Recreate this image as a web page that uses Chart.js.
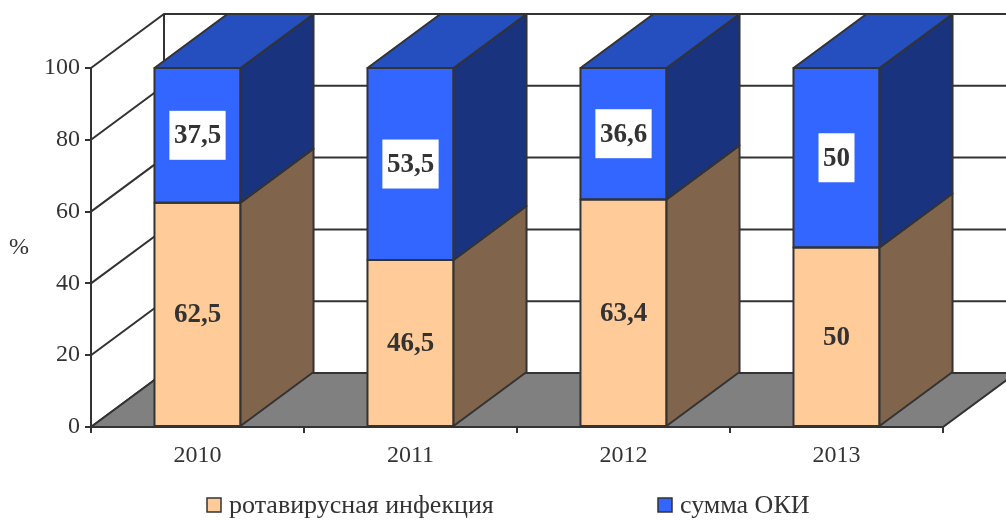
<!DOCTYPE html>
<html>
<head>
<meta charset="utf-8">
<script src="https://cdn.jsdelivr.net/npm/chart.js@4.4.1/dist/chart.umd.min.js"></script>
<style>
  body { margin: 0; background: #fff; }
  #wrap { width: 1006px; height: 520px; }
</style>
</head>
<body>
<div id="wrap"><canvas id="myChart" width="1006" height="520"></canvas></div>
<script>
// данные
var years = ['2010', '2011', '2012', '2013'];
var rotaValues = [62.5, 46.5, 63.4, 50];
var okiValues = [37.5, 53.5, 36.6, 50];
var yTicks = [0, 20, 40, 60, 80, 100];
var seriesNames = ['ротавирусная инфекция', 'сумма ОКИ'];

var DX = 73, DY = -54;          // глубина 3D
var LINE = '#333333';
var FONT = '"Liberation Serif", "Times New Roman", serif';

function fmt(v) {
  return String(v).replace('.', ',');
}

var threeD = {
  id: 'threeD',
  beforeDatasetsDraw: function (chart) {
    var ctx = chart.ctx, a = chart.chartArea, y = chart.scales.y;
    ctx.save();
    ctx.strokeStyle = LINE;
    ctx.lineWidth = 2;
    // сетка на левой и задней стенке
    yTicks.forEach(function (v) {
      var py = y.getPixelForValue(v);
      ctx.beginPath();
      ctx.moveTo(a.left, py);
      ctx.lineTo(a.left + DX, py + DY);
      ctx.lineTo(a.right + DX, py + DY);
      ctx.stroke();
    });
    // задняя вертикаль
    ctx.beginPath();
    ctx.moveTo(a.left + DX, y.getPixelForValue(100) + DY);
    ctx.lineTo(a.left + DX, a.bottom + DY);
    ctx.stroke();
    // пол
    ctx.beginPath();
    ctx.moveTo(a.left, a.bottom);
    ctx.lineTo(a.right, a.bottom);
    ctx.lineTo(a.right + DX, a.bottom + DY);
    ctx.lineTo(a.left + DX, a.bottom + DY);
    ctx.closePath();
    ctx.fillStyle = '#808080';
    ctx.fill();
    ctx.stroke();
    ctx.restore();
  },
  afterDatasetsDraw: function (chart) {
    var ctx = chart.ctx;
    var n = chart.data.datasets.length;
    ctx.save();
    ctx.strokeStyle = LINE;
    ctx.lineWidth = 2;
    ctx.lineJoin = 'round';
    chart.data.datasets.forEach(function (ds, i) {
      var meta = chart.getDatasetMeta(i);
      meta.data.forEach(function (el) {
        var p = el.getProps(['x', 'y', 'base', 'width'], true);
        var l = p.x - p.width / 2, r = p.x + p.width / 2;
        var t = Math.min(p.y, p.base), b = Math.max(p.y, p.base);
        // передняя грань (контур)
        ctx.strokeRect(l, t, r - l, b - t);
        // боковая грань
        ctx.beginPath();
        ctx.moveTo(r, t);
        ctx.lineTo(r + DX, t + DY);
        ctx.lineTo(r + DX, b + DY);
        ctx.lineTo(r, b);
        ctx.closePath();
        ctx.fillStyle = ds.sideColor;
        ctx.fill();
        ctx.stroke();
        // верхняя грань
        if (i === n - 1) {
          ctx.beginPath();
          ctx.moveTo(l, t);
          ctx.lineTo(r, t);
          ctx.lineTo(r + DX, t + DY);
          ctx.lineTo(l + DX, t + DY);
          ctx.closePath();
          ctx.fillStyle = ds.topColor;
          ctx.fill();
          ctx.stroke();
        }
      });
    });
    // подписи значений
    ctx.font = 'bold 27px ' + FONT;
    ctx.textAlign = 'center';
    ctx.textBaseline = 'middle';
    chart.data.datasets.forEach(function (ds, i) {
      var meta = chart.getDatasetMeta(i);
      meta.data.forEach(function (el, j) {
        var p = el.getProps(['x', 'y', 'base'], true);
        var cy = (p.y + p.base) / 2;
        var txt = fmt(ds.data[j]);
        if (ds.labelBox) {
          var w = ctx.measureText(txt).width + 9;
          ctx.fillStyle = '#ffffff';
          ctx.fillRect(p.x - w / 2, cy - 24.5, w, 49);
        }
        ctx.fillStyle = '#333333';
        ctx.fillText(txt, p.x, cy + 1);
      });
    });
    ctx.restore();
  },
  afterDraw: function (chart) {
    var ctx = chart.ctx, a = chart.chartArea;
    ctx.save();
    // подпись оси
    ctx.font = '24px ' + FONT;
    ctx.fillStyle = '#333333';
    ctx.textAlign = 'center';
    ctx.textBaseline = 'middle';
    ctx.fillText('%', 19, (a.top + a.bottom) / 2);
    // легенда
    ctx.font = '26px ' + FONT;
    ctx.textAlign = 'left';
    chart.data.datasets.forEach(function (ds, i) {
      var x = 207 + i * 451, cy = 505;
      ctx.fillStyle = ds.backgroundColor;
      ctx.fillRect(x, cy - 7, 14, 14);
      ctx.strokeStyle = LINE;
      ctx.lineWidth = 1.5;
      ctx.strokeRect(x, cy - 7, 14, 14);
      ctx.fillStyle = '#333333';
      ctx.fillText(ds.label, x + 22, cy + 1);
    });
    ctx.restore();
  }
};

var chart = new Chart(document.getElementById('myChart'), {
  type: 'bar',
  data: {
    labels: years,
    datasets: [
      {
        label: seriesNames[0],
        data: rotaValues,
        backgroundColor: '#FFCC99',
        sideColor: '#80654C',
        borderWidth: 0,
        labelBox: false
      },
      {
        label: seriesNames[1],
        data: okiValues,
        backgroundColor: '#3366FF',
        sideColor: '#1A337F',
        topColor: '#254FBF',
        borderWidth: 0,
        labelBox: true
      }
    ]
  },
  options: {
    responsive: false,
    animation: false,
    layout: { padding: { top: 68, right: 63, bottom: 0, left: 0 } },
    datasets: { bar: { categoryPercentage: 1, barPercentage: 0.404 } },
    plugins: { legend: { display: false }, tooltip: { enabled: false } },
    scales: {
      x: {
        stacked: true,
        afterFit: function (s) { s.height = 93; },
        grid: { offset: true, drawOnChartArea: false, drawTicks: true, tickLength: 6, color: LINE, lineWidth: 2 },
        border: { display: true, color: LINE, width: 2 },
        ticks: { color: '#333333', font: { family: FONT, size: 24 }, padding: 8 }
      },
      y: {
        stacked: true,
        min: 0,
        max: 100,
        afterFit: function (s) { s.width = 91; },
        afterBuildTicks: function (s) { s.ticks = yTicks.map(function (v) { return { value: v }; }); },
        grid: { drawOnChartArea: false, drawTicks: true, tickLength: 6, color: LINE, lineWidth: 2 },
        border: { display: true, color: LINE, width: 2 },
        ticks: { color: '#333333', font: { family: FONT, size: 24 }, padding: 5 }
      }
    }
  },
  plugins: [threeD]
});
</script>
</body>
</html>
